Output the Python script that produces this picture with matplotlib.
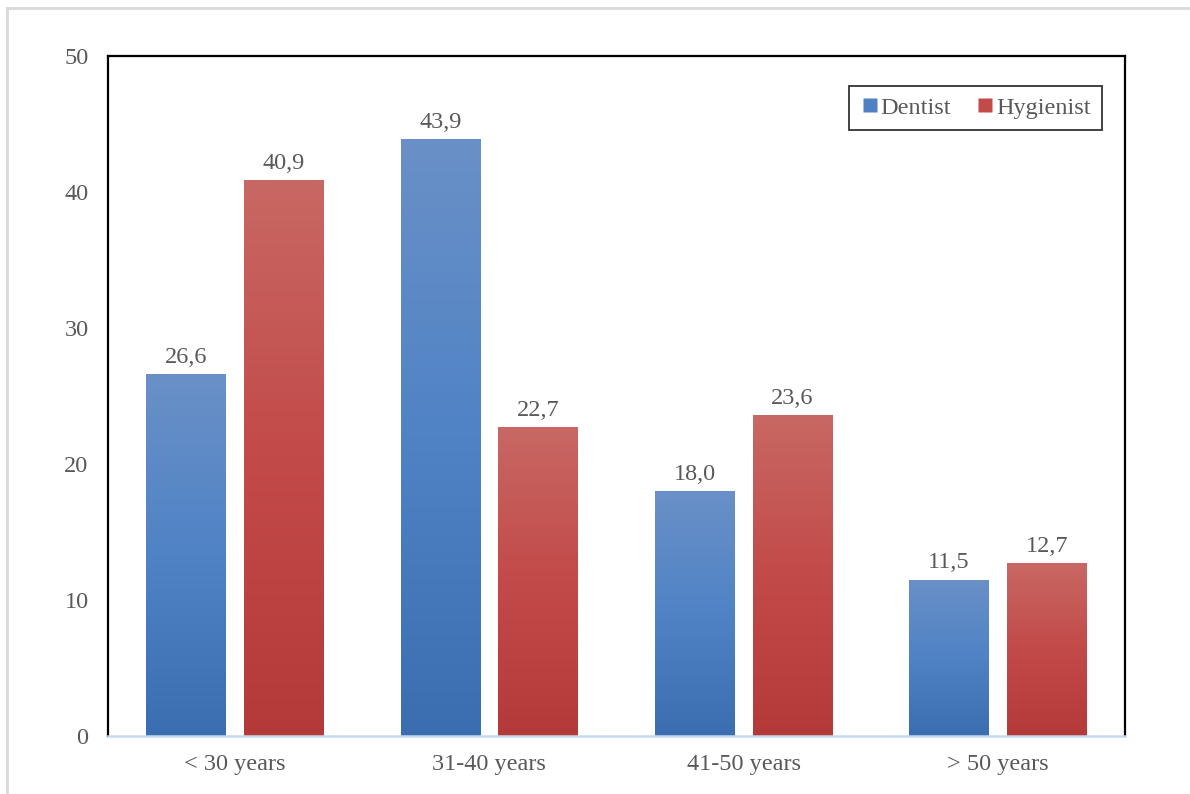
import numpy as np
import matplotlib.pyplot as plt
from matplotlib.colors import LinearSegmentedColormap
from matplotlib.lines import Line2D

plt.rcParams['font.family'] = ['Liberation Serif', 'DejaVu Serif']

categories = ['< 30 years', '31-40 years', '41-50 years', '> 50 years']
dentist = [26.6, 43.9, 18.0, 11.5]
hygienist = [40.9, 22.7, 23.6, 12.7]
series_names = ['Dentist', 'Hygienist']
yticks = [0, 10, 20, 30, 40, 50]

text_color = '#595959'
fs = 17.5
blue_cmap = LinearSegmentedColormap.from_list('blue', ['#3a6eb0', '#4f83c5', '#6a90c7'])
red_cmap = LinearSegmentedColormap.from_list('red', ['#b43a39', '#c24a48', '#c86864'])

fig = plt.figure(figsize=(11.9, 7.94), dpi=100)
ax = fig.add_axes([108 / 1190, 58 / 794, 1017 / 1190, 680 / 794])

x = np.arange(len(categories))
width = 0.314
offset = 0.1925
grad = np.linspace(0, 1, 256).reshape(-1, 1)


def gradient_bars(xs, values, cmap):
    bars = ax.bar(xs, values, width, facecolor='none', edgecolor='none', zorder=2)
    for bar, v in zip(bars, values):
        x0 = bar.get_x()
        im = ax.imshow(grad, cmap=cmap, origin='lower', aspect='auto',
                       extent=[x0, x0 + bar.get_width(), 0, v], zorder=2)
        im.set_clip_path(bar)
        ax.text(bar.get_x() + bar.get_width() / 2, v + 0.45, f'{v:.1f}'.replace('.', ','),
                ha='center', va='bottom', fontsize=fs, color=text_color)
    return bars


gradient_bars(x - offset, dentist, blue_cmap)
gradient_bars(x + offset, hygienist, red_cmap)

ax.set_xlim(-0.5, len(categories) - 0.5)
ax.set_ylim(0, 50)
ax.set_xticks(x)
ax.set_xticklabels(categories)
ax.set_yticks(yticks)
ax.tick_params(length=0, labelsize=fs, labelcolor=text_color)
ax.tick_params(axis='y', pad=14)
ax.tick_params(axis='x', pad=13)

for side in ['left', 'top', 'right']:
    ax.spines[side].set_color('black')
    ax.spines[side].set_linewidth(1.6)
ax.spines['bottom'].set_color('#c6d8ee')
ax.spines['bottom'].set_linewidth(1.8)

handles = [Line2D([], [], marker='s', linestyle='none', markersize=10,
                  markerfacecolor='#4f81c2', markeredgecolor='none'),
           Line2D([], [], marker='s', linestyle='none', markersize=10,
                  markerfacecolor='#c24a48', markeredgecolor='none')]
leg = ax.legend(handles, series_names, loc='upper right', bbox_to_anchor=(0.977, 0.956),
                ncol=2, fontsize=fs, frameon=True, fancybox=False, borderaxespad=0,
                handletextpad=0.05, columnspacing=1.0, handlelength=0.8,
                borderpad=0.45)
leg.get_frame().set_edgecolor('black')
leg.get_frame().set_linewidth(1.3)
for t in leg.get_texts():
    t.set_color(text_color)

# light frame lines along the left and top of the canvas
fig.add_artist(Line2D([6.5 / 1190, 6.5 / 1190], [0, 786 / 794], color='#d9d9d9', lw=2))
fig.add_artist(Line2D([6.5 / 1190, 1], [786 / 794, 786 / 794], color='#d9d9d9', lw=2))

fig.savefig('out.png', dpi=100)
